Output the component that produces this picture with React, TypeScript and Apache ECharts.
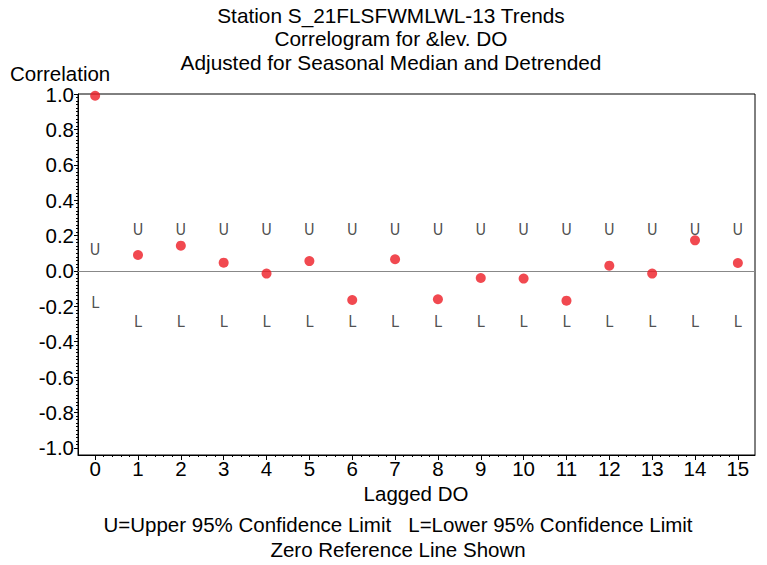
import React, { useEffect, useRef } from "react";
import * as echarts from "echarts";

const lags = [0, 1, 2, 3, 4, 5, 6, 7, 8, 9, 10, 11, 12, 13, 14, 15];
const correlations = [0.99, 0.09, 0.143, 0.047, -0.015, 0.056, -0.164, 0.066, -0.16, -0.04, -0.043, -0.168, 0.03, -0.015, 0.173, 0.045];
const upperLimits = [0.15, 0.26, 0.26, 0.26, 0.26, 0.26, 0.26, 0.26, 0.26, 0.26, 0.26, 0.26, 0.26, 0.26, 0.26, 0.26];
const lowerLimits = [-0.15, -0.26, -0.26, -0.26, -0.26, -0.26, -0.26, -0.26, -0.26, -0.26, -0.26, -0.26, -0.26, -0.26, -0.26, -0.26];
const yTickLabels = [-1.0, -0.8, -0.6, -0.4, -0.2, 0.0, 0.2, 0.4, 0.6, 0.8, 1.0];
const titleLines = [
  "Station S_21FLSFWMLWL-13 Trends",
  "Correlogram for &lev. DO",
  "Adjusted for Seasonal Median and Detrended",
];
const yAxisTitle = "Correlation";
const xAxisTitle = "Lagged DO";
const footnotes = [
  "U=Upper 95% Confidence Limit\u00a0\u00a0\u00a0L=Lower 95% Confidence Limit",
  "Zero Reference Line Shown",
];

const FONT = "'Liberation Sans', Arial, sans-serif";
const MARK_FONT = "'Liberation Sans Narrow', 'DejaVu Sans Condensed', 'Liberation Sans', sans-serif";

export default function App() {
  const ref = useRef<HTMLDivElement>(null);
  useEffect(() => {
    if (!ref.current) return;
    const chart = echarts.init(ref.current, undefined, { renderer: "svg" });

    const xMinor: number[] = [];
    for (let i = 0; i < lags.length - 1; i++) {
      for (let k = 1; k < 5; k++) xMinor.push(+(lags[i] + k * 0.2).toFixed(2));
    }
    const yMinor: number[] = [];
    for (let v = -100; v <= 100; v += 2) {
      if (v % 20 !== 0) yMinor.push(v / 100);
    }

    const textStyle = { fontFamily: FONT, fontSize: 20.5, fill: "#000" };

    const markLabel = (ch: string) => ({
      show: true,
      position: "inside",
      formatter: ch,
      offset: [0, 5],
      color: "#222",
      fontSize: 16,
      fontFamily: MARK_FONT,
      fontWeight: "normal",
    });

    chart.setOption({
      animation: false,
      grid: {
        left: 78,
        top: 94,
        right: 12,
        bottom: 110,
        show: true,
        borderColor: "#000",
        borderWidth: 1,
        containLabel: false,
      },
      xAxis: [
        {
          type: "value",
          min: -0.4,
          max: 15.4,
          splitLine: { show: false },
          axisLine: { show: true, onZero: false, lineStyle: { color: "#000", width: 1 } },
          axisTick: { show: true, length: 5, customValues: lags, lineStyle: { color: "#000" } },
          axisLabel: {
            customValues: lags,
            color: "#000",
            fontSize: 20.5,
            fontFamily: FONT,
            margin: 3,
          },
        },
        {
          type: "value",
          min: -0.4,
          max: 15.4,
          position: "bottom",
          splitLine: { show: false },
          axisLine: { show: false, onZero: false },
          axisTick: { show: true, length: 2, customValues: xMinor, lineStyle: { color: "#000" } },
          axisLabel: { show: false },
        },
      ],
      yAxis: [
        {
          type: "value",
          min: -1.04,
          max: 1.0,
          splitLine: { show: false },
          axisLine: { show: true, onZero: false, lineStyle: { color: "#000", width: 1 } },
          axisTick: { show: true, length: 4, customValues: yTickLabels, lineStyle: { color: "#000" } },
          axisLabel: {
            customValues: yTickLabels,
            formatter: (v: number) => v.toFixed(1),
            color: "#000",
            fontSize: 20.5,
            fontFamily: FONT,
            margin: 4,
          },
        },
        {
          type: "value",
          min: -1.04,
          max: 1.0,
          position: "left",
          splitLine: { show: false },
          axisLine: { show: false, onZero: false },
          axisTick: { show: true, length: 2, customValues: yMinor, lineStyle: { color: "#000" } },
          axisLabel: { show: false },
        },
      ],
      series: [
        {
          type: "scatter",
          name: "Upper",
          data: lags.map((l, i) => [l, upperLimits[i]]),
          symbol: "circle",
          symbolSize: 1,
          itemStyle: { color: "rgba(0,0,0,0)" },
          silent: true,
          label: markLabel("U"),
        },
        {
          type: "scatter",
          name: "Lower",
          data: lags.map((l, i) => [l, lowerLimits[i]]),
          symbol: "circle",
          symbolSize: 1,
          itemStyle: { color: "rgba(0,0,0,0)" },
          silent: true,
          label: markLabel("L"),
        },
        {
          type: "scatter",
          name: "Correlation",
          data: lags.map((l, i) => [l, correlations[i]]),
          symbol: "circle",
          symbolSize: 10,
          itemStyle: { color: "#ed1c24" },
          z: 5,
          markLine: {
            silent: true,
            symbol: ["none", "none"],
            label: { show: false },
            lineStyle: { color: "#888", type: "solid", width: 1 },
            data: [{ yAxis: 0 }],
          },
        },
      ],
      graphic: [
        ...titleLines.map((t, i) => ({
          type: "text",
          x: 391,
          y: 15 + i * 23.5,
          style: { ...textStyle, fontSize: 20.8, text: t, textAlign: "center", textVerticalAlign: "middle" },
        })),
        {
          type: "text",
          x: 10,
          y: 73,
          style: { ...textStyle, text: yAxisTitle, textAlign: "left", textVerticalAlign: "middle" },
        },
        {
          type: "text",
          x: 416,
          y: 493,
          style: { ...textStyle, text: xAxisTitle, textAlign: "center", textVerticalAlign: "middle" },
        },
        ...footnotes.map((t, i) => ({
          type: "text",
          x: 398,
          y: 524 + i * 25,
          style: { ...textStyle, text: t, textAlign: "center", textVerticalAlign: "middle" },
        })),
      ],
    });
    return () => chart.dispose();
  }, []);
  return <div ref={ref} style={{ width: 767, height: 565, position: "absolute", left: 0, top: 0 }} />;
}
